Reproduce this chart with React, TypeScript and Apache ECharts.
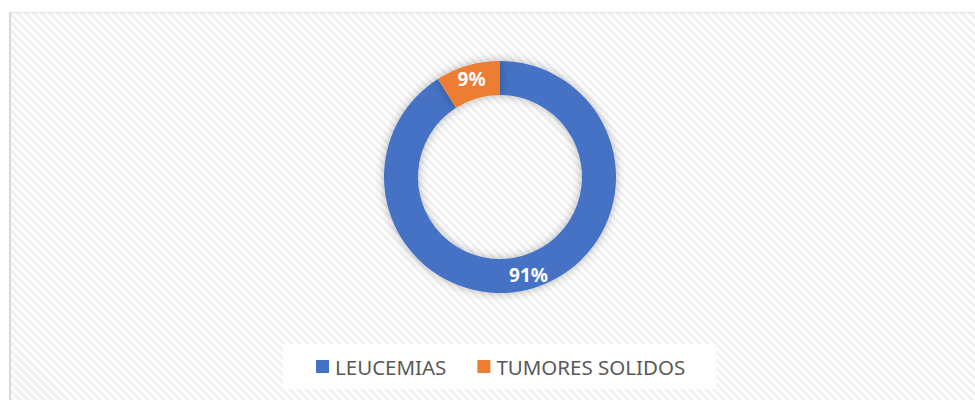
import React, { useEffect, useRef } from "react";
import * as echarts from "echarts";

const categories = ["LEUCEMIAS", "TUMORES SOLIDOS"];
const values = [91, 9];
const colors = ["#4472C4", "#ED7D31"];

export default function App() {
  const ref = useRef<HTMLDivElement>(null);
  useEffect(() => {
    document.body.style.margin = "0";
    const chart = echarts.init(ref.current!, undefined, { renderer: "svg" });
    chart.setOption({
      animation: false,
      backgroundColor: "transparent",
      legend: {
        data: categories,
        left: 283,
        top: 344,
        icon: "rect",
        itemWidth: 13,
        itemHeight: 13,
        itemGap: 31,
        padding: [12, 31, 12, 33],
        backgroundColor: "#ffffff",
        textStyle: { color: "#595959", fontSize: 20.5, fontFamily: "Noto Sans", padding: [0, 0, 0, 1] },
      },
      series: [
        {
          type: "pie",
          center: [500, 177],
          radius: [82, 116],
          startAngle: 90,
          clockwise: true,
          avoidLabelOverlap: false,
          label: {
            show: true,
            position: "inside",
            formatter: "{d}%",
            color: "#ffffff",
            fontWeight: "bold",
            fontSize: 19,
            fontFamily: "Noto Sans",
          },
          labelLine: { show: false },
          itemStyle: {
            shadowBlur: 10,
            shadowColor: "rgba(0,0,0,0.3)",
          },
          emphasis: { disabled: true },
          data: categories.map((c, i) => ({
            name: c,
            value: values[i],
            itemStyle: { color: colors[i] },
          })),
        },
      ],
    });
    return () => chart.dispose();
  }, []);
  return (
    <div style={{ position: "relative", width: 975, height: 400, overflow: "hidden", background: "#fff" }}>
      <div
        style={{
          position: "absolute",
          left: 9,
          top: 12,
          width: 980,
          height: 400,
          borderLeft: "2px solid #d9d9d9",
          borderTop: "1px solid #e3e3e3",
          background:
            "repeating-linear-gradient(45deg, #ffffff 0px, #ffffff 2.8px, #f1f1f1 2.8px, #f1f1f1 5.66px)",
        }}
      />
      <div ref={ref} style={{ position: "absolute", left: 0, top: 0, width: 975, height: 400 }} />
    </div>
  );
}
